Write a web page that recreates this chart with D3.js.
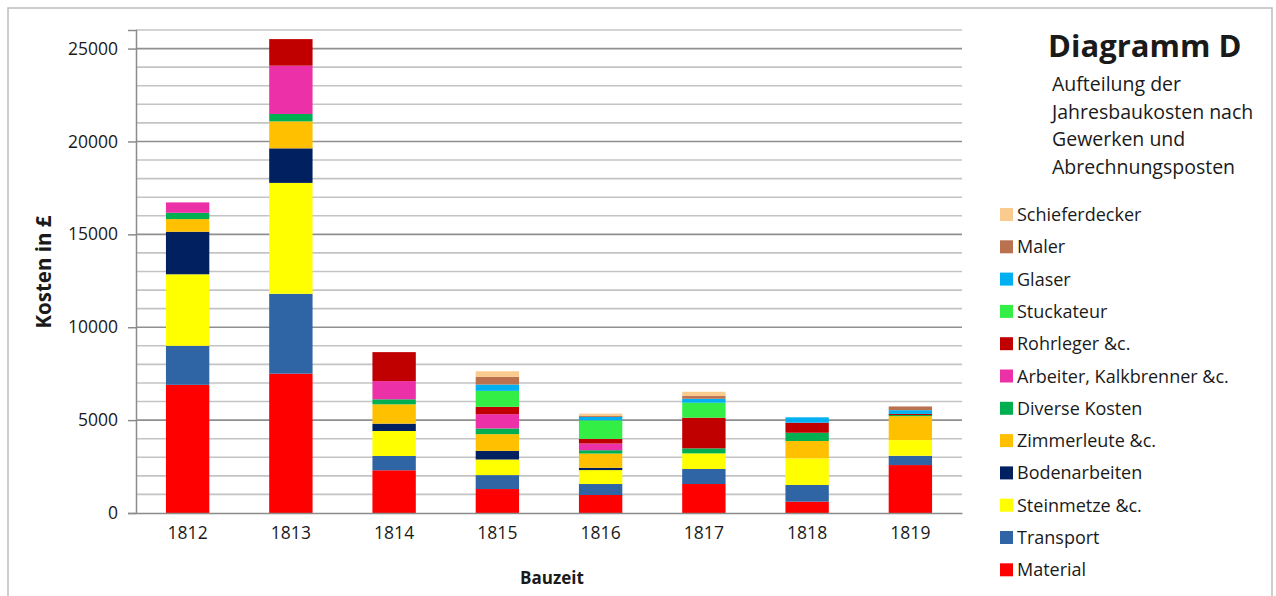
<!DOCTYPE html>
<html><head><meta charset="utf-8">
<script src="https://cdn.jsdelivr.net/npm/d3@7"></script>
<style>
html,body{margin:0;padding:0;background:#fff;}
text{font-family:"Open Sans",Lato,sans-serif;fill:#1a1a1a;}
</style></head>
<body><svg id="c" width="1276" height="596"></svg>
<script>
const years = ["1812","1813","1814","1815","1816","1817","1818","1819"];
const material   = [6900, 7500, 2300, 1290, 970, 1560, 610, 2580];
const transport  = [2100, 4300, 770, 750, 590, 810, 900, 500];
const steinmetze = [3850, 5970, 1345, 840, 750, 840, 1435, 845];
const boden      = [2290, 1860, 395, 465, 120, 0, 0, 0];
const zimmer     = [680, 1450, 1040, 900, 770, 0, 930, 1290];
const diverse    = [340, 400, 270, 305, 180, 270, 445, 60];
const arbeiter   = [560, 2600, 980, 770, 360, 0, 0, 0];
const rohrleger  = [0, 1430, 1560, 395, 250, 1650, 540, 60];
const stuckateur = [0, 0, 0, 860, 1000, 806, 0, 0];
const glaser     = [0, 0, 0, 340, 180, 215, 290, 200];
const maler      = [0, 0, 0, 410, 50, 145, 0, 200];
const schiefer   = [0, 0, 0, 305, 130, 230, 0, 0];

const seriesNames = ["Material","Transport","Steinmetze &c.","Bodenarbeiten","Zimmerleute &c.","Diverse Kosten","Arbeiter, Kalkbrenner &c.","Rohrleger &c.","Stuckateur","Glaser","Maler","Schieferdecker"];
const seriesValues = [material, transport, steinmetze, boden, zimmer, diverse, arbeiter, rohrleger, stuckateur, glaser, maler, schiefer];
const colors = ["#FF0000","#2F64A5","#FFFF00","#002060","#FFC000","#00B050","#EC30A8","#C00000","#33EE44","#00B0F0","#B9714F","#F9CB8F"];
const yTicks = [0, 5000, 10000, 15000, 20000, 25000];

(function(){
const svg = d3.select("#c");
svg.append("rect").attr("x",8).attr("y",8).attr("width",1264).attr("height",600)
  .attr("fill","none").attr("stroke","#bdbdbd").attr("stroke-width",1.5);

const pL = 136, pR = 962, pT = 30, pB = 513;
const x = d3.scaleBand().domain(years).range([pL, pR]).paddingInner(0.58).paddingOuter(0.29);
const y = d3.scaleLinear().domain([0, 26000]).range([pB, pT]);

const grid = d3.range(1000, 26001, 1000);
svg.append("g").selectAll("line").data(grid).join("line")
  .attr("x1", pL).attr("x2", pR)
  .attr("y1", d => y(d)).attr("y2", d => y(d))
  .attr("stroke", d => d % 5000 === 0 ? "#8f8f8f" : "#c4c4c4")
  .attr("stroke-width", 1.6);

const table = years.map((yr, i) => {
  const o = {year: yr};
  seriesNames.forEach((n, j) => o[n] = seriesValues[j][i]);
  return o;
});
const stack = d3.stack().keys(seriesNames)(table);
svg.append("g").selectAll("g").data(stack).join("g")
  .attr("fill", (d, i) => colors[i])
  .selectAll("rect").data(d => d).join("rect")
  .attr("x", d => x(d.data.year))
  .attr("width", x.bandwidth())
  .attr("y", d => y(d[1]))
  .attr("height", d => Math.max(0, y(d[0]) - y(d[1])));

const yAxis = d3.axisLeft(y).tickValues(yTicks).tickSize(8).tickPadding(10).tickFormat(d3.format("d"));
const gy = svg.append("g").attr("transform", `translate(${pL},0)`).call(yAxis);
gy.select(".domain").attr("stroke","#8c8c8c").attr("stroke-width",1.5);
gy.selectAll(".tick line").attr("stroke","#8c8c8c").attr("stroke-width",1.5);
gy.selectAll(".tick text").attr("font-size",17.5).attr("fill","#1a1a1a").style("font-family","Open Sans");

const xAxis = d3.axisBottom(x).tickSize(0).tickPadding(14);
const gx = svg.append("g").attr("transform", `translate(0,${pB})`).call(xAxis);
gx.select(".domain").attr("stroke","#8c8c8c").attr("stroke-width",1.5);
gx.selectAll(".tick text").attr("font-size",17.5).attr("fill","#1a1a1a").style("font-family","Open Sans");

svg.append("text").attr("transform","translate(51,272) rotate(-90)")
  .attr("text-anchor","middle").attr("font-size",20.5).attr("font-weight","bold").text("Kosten in £");
svg.append("text").attr("x",552).attr("y",584).attr("text-anchor","middle")
  .attr("font-size",17).attr("font-weight","bold").text("Bauzeit");

svg.append("text").attr("x",1048).attr("y",57).attr("font-size",31).attr("font-weight","bold").text("Diagramm D");
const sub = ["Aufteilung der","Jahresbaukosten nach","Gewerken und","Abrechnungsposten"];
svg.append("g").selectAll("text").data(sub).join("text")
  .attr("x",1052).attr("y",(d,i)=>91+i*27.5).attr("font-size",19.5).text(d=>d);

const legendOrder = d3.range(seriesNames.length).reverse();
const lg = svg.append("g").selectAll("g").data(legendOrder).join("g")
  .attr("transform",(d,i)=>`translate(1000,${215 + i*32.3})`);
lg.append("rect").attr("x",0).attr("y",-7).attr("width",13).attr("height",13).attr("fill",d=>colors[d]);
lg.append("text").attr("x",17).attr("y",6).attr("font-size",18).text(d=>seriesNames[d]);
})();
</script></body></html>
